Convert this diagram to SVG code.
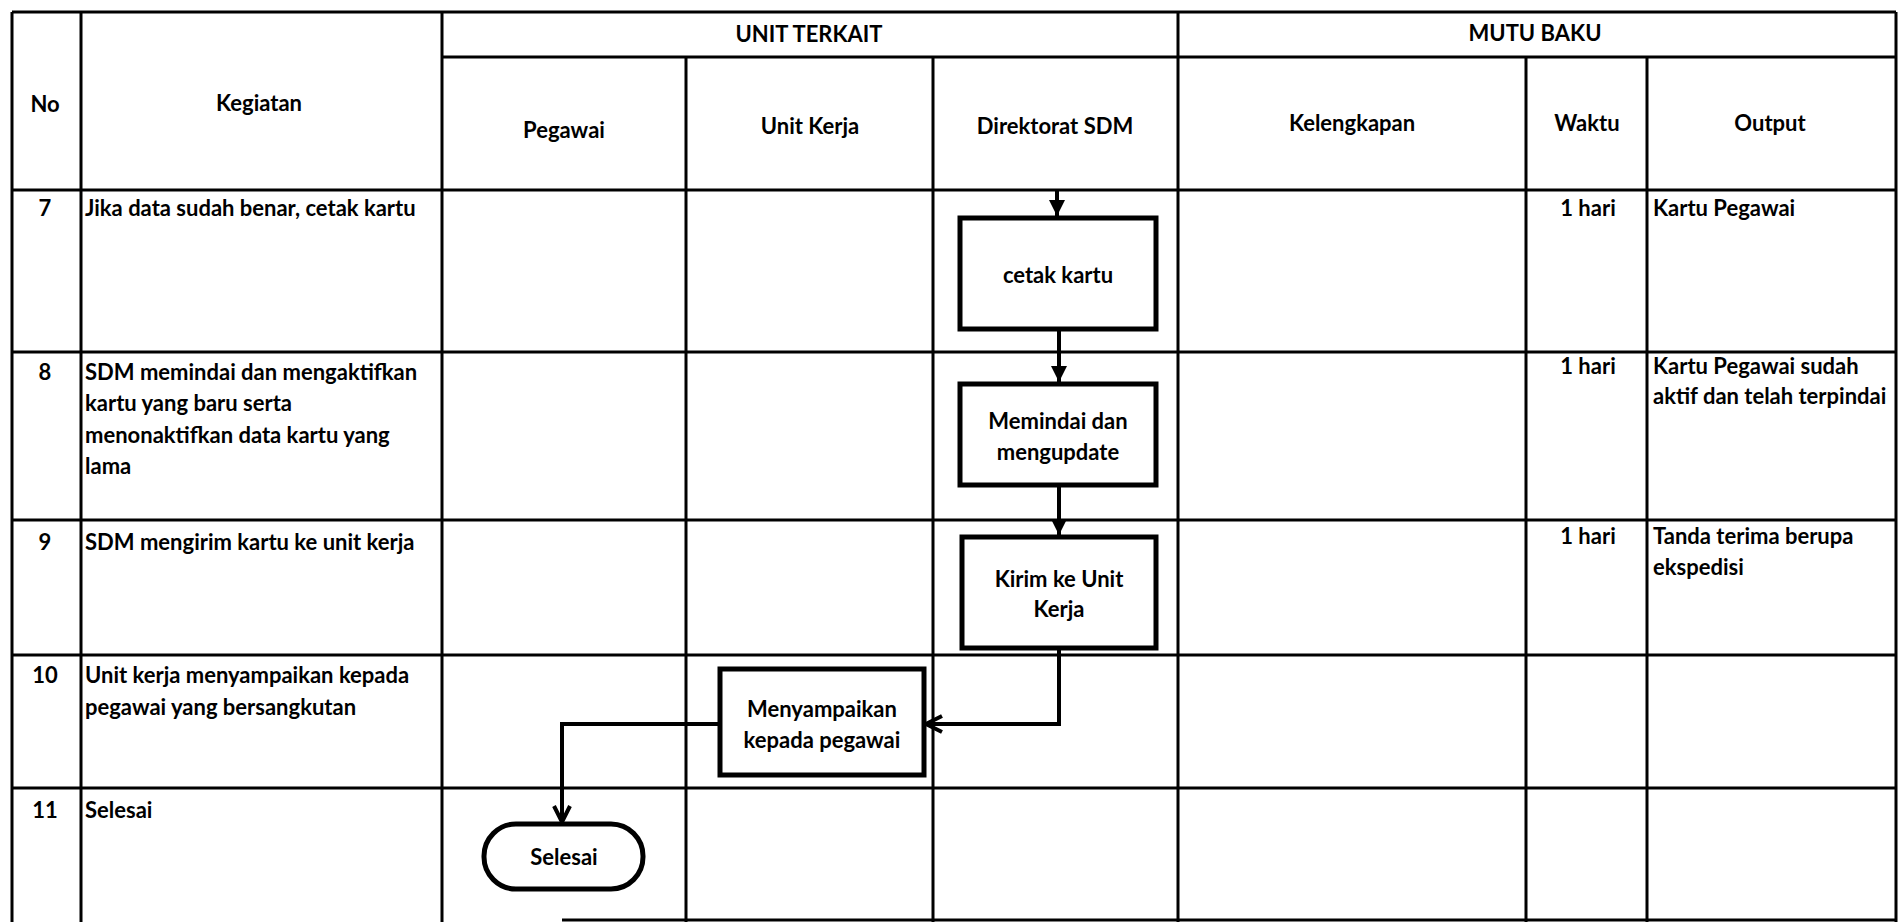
<svg xmlns="http://www.w3.org/2000/svg" width="1898" height="922" viewBox="0 0 1898 922">
<style>
.grid{stroke:#000;stroke-width:3;fill:none}
.box{fill:#fff;stroke:#000;stroke-width:5}
.t{font-family:Lato,"Liberation Sans",sans-serif;font-weight:bold;font-size:22px;fill:#000}
.c{text-anchor:middle}
.con{stroke:#000;stroke-width:4;fill:none}
</style>
<defs>
<marker id="tri" viewBox="0 0 10 10" refX="10" refY="5" markerWidth="4" markerHeight="4" orient="auto" markerUnits="strokeWidth">
<path d="M0,0 L10,5 L0,10 z" fill="#000"/>
</marker>
<marker id="open" viewBox="0 0 10 10" refX="9" refY="5" markerWidth="5" markerHeight="5" orient="auto" markerUnits="strokeWidth">
<path d="M1,1 L9,5 L1,9" fill="none" stroke="#000" stroke-width="2"/>
</marker>
</defs>
<rect x="0" y="0" width="1898" height="922" fill="#fff"/>
<g id="table">
<line class="grid" x1="12" y1="12" x2="1896" y2="12"/>
<line class="grid" x1="12" y1="12" x2="12" y2="922"/>
<line class="grid" x1="1896" y1="12" x2="1896" y2="922"/>
<line class="grid" x1="442" y1="57" x2="1896" y2="57"/>
<line class="grid" x1="12" y1="190" x2="1896" y2="190"/>
<line class="grid" x1="12" y1="352" x2="1896" y2="352"/>
<line class="grid" x1="12" y1="520" x2="1896" y2="520"/>
<line class="grid" x1="12" y1="655" x2="1896" y2="655"/>
<line class="grid" x1="12" y1="788" x2="1896" y2="788"/>
<line class="grid" x1="562" y1="920" x2="1896" y2="920"/>
<line class="grid" x1="81" y1="12" x2="81" y2="922"/>
<line class="grid" x1="442" y1="12" x2="442" y2="922"/>
<line class="grid" x1="686" y1="57" x2="686" y2="922"/>
<line class="grid" x1="933" y1="57" x2="933" y2="922"/>
<line class="grid" x1="1178" y1="12" x2="1178" y2="922"/>
<line class="grid" x1="1526" y1="57" x2="1526" y2="922"/>
<line class="grid" x1="1647" y1="57" x2="1647" y2="922"/>
</g>
<g id="headers">
<text class="t c" x="45" y="112">No</text>
<text class="t c" x="259" y="111">Kegiatan</text>
<text class="t c" x="809" y="42">UNIT TERKAIT</text>
<text class="t c" x="1535" y="41">MUTU BAKU</text>
<text class="t c" x="564" y="138">Pegawai</text>
<text class="t c" x="810" y="134">Unit Kerja</text>
<text class="t c" x="1055" y="134">Direktorat SDM</text>
<text class="t c" x="1352" y="131">Kelengkapan</text>
<text class="t c" x="1587" y="131">Waktu</text>
<text class="t c" x="1770" y="131">Output</text>
</g>
<g id="rows">
<text class="t c" x="45" y="216">7</text>
<text class="t" x="85" y="216">Jika data sudah benar, cetak kartu</text>
<text class="t c" x="45" y="380">8</text>
<text class="t" x="85" y="380">SDM memindai dan mengaktifkan</text>
<text class="t" x="85" y="411">kartu yang baru serta</text>
<text class="t" x="85" y="443">menonaktifkan data kartu yang</text>
<text class="t" x="85" y="474">lama</text>
<text class="t c" x="45" y="550">9</text>
<text class="t" x="85" y="550">SDM mengirim kartu ke unit kerja</text>
<text class="t c" x="45" y="683">10</text>
<text class="t" x="85" y="683">Unit kerja menyampaikan kepada</text>
<text class="t" x="85" y="715">pegawai yang bersangkutan</text>
<text class="t c" x="45" y="818">11</text>
<text class="t" x="85" y="818">Selesai</text>
<text class="t c" x="1588" y="216">1 hari</text>
<text class="t c" x="1588" y="374">1 hari</text>
<text class="t c" x="1588" y="544">1 hari</text>
<text class="t" x="1653" y="216">Kartu Pegawai</text>
<text class="t" x="1653" y="374">Kartu Pegawai sudah</text>
<text class="t" x="1653" y="404">aktif dan telah terpindai</text>
<text class="t" x="1653" y="544">Tanda terima berupa</text>
<text class="t" x="1653" y="575">ekspedisi</text>
</g>
<g id="connectors">
<line class="con" x1="1057" y1="190" x2="1057" y2="216" marker-end="url(#tri)"/>
<line class="con" x1="1059" y1="329" x2="1059" y2="382" marker-end="url(#tri)"/>
<line class="con" x1="1059" y1="485" x2="1059" y2="535" marker-end="url(#tri)"/>
<polyline class="con" points="1059,648 1059,724 926,724" marker-end="url(#open)"/>
<polyline class="con" points="720,724 562,724 562,822" marker-end="url(#open)"/>
</g>
<g id="n-cetak">
<rect class="box" x="960" y="218" width="196" height="111"/>
<text class="t c" x="1058" y="283">cetak kartu</text>
</g>
<g id="n-memindai">
<rect class="box" x="960" y="384" width="196" height="101"/>
<text class="t c" x="1058" y="429">Memindai dan</text>
<text class="t c" x="1058" y="460">mengupdate</text>
</g>
<g id="n-kirim">
<rect class="box" x="962" y="537" width="194" height="111"/>
<text class="t c" x="1059" y="587">Kirim ke Unit</text>
<text class="t c" x="1059" y="617">Kerja</text>
</g>
<g id="n-menyampaikan">
<rect class="box" x="720" y="669" width="204" height="106"/>
<text class="t c" x="822" y="717">Menyampaikan</text>
<text class="t c" x="822" y="748">kepada pegawai</text>
</g>
<g id="n-selesai">
<rect class="box" x="484" y="824" width="159" height="65" rx="32" ry="32"/>
<text class="t c" x="564" y="865">Selesai</text>
</g>
</svg>
